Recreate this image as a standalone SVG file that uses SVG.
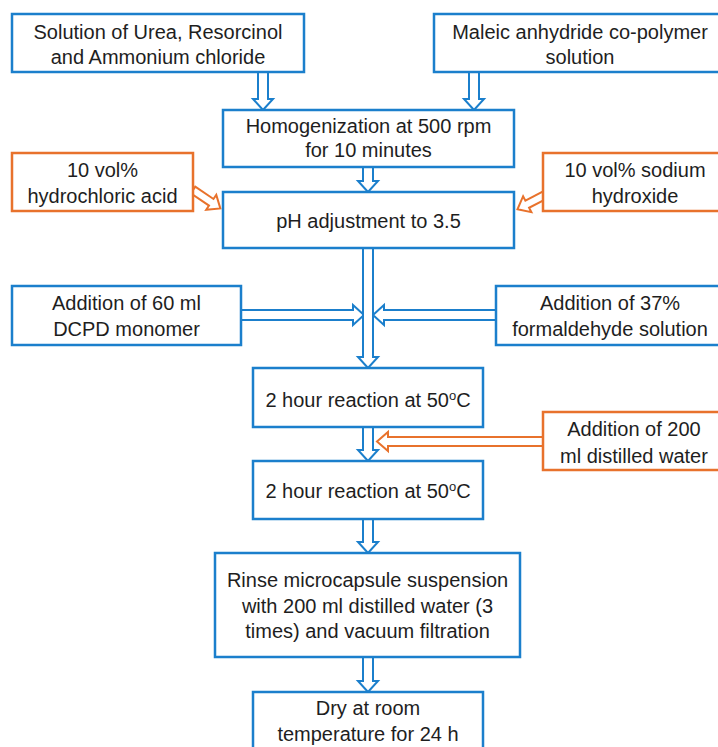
<svg xmlns="http://www.w3.org/2000/svg" width="718" height="747" viewBox="0 0 718 747">
<style>
.b{fill:#fff;stroke:#1b7fcc;stroke-width:2.5}
.o{fill:#fff;stroke:#e8722c;stroke-width:2.5}
.ab{fill:#fff;stroke:#1b7fcc;stroke-width:2;stroke-linejoin:miter}
.ao{fill:#fff;stroke:#e8722c;stroke-width:2;stroke-linejoin:miter}
text{font-family:"Liberation Sans",Arial,sans-serif;font-size:20px;fill:#1e1e1e;text-anchor:middle}
</style>
<rect width="718" height="747" fill="#fff"/>
<g id="connectors">
<polygon class="ab" points="258,72 268,72 268,99 273,99 263,110 253,99 258,99"/>
<polygon class="ab" points="469,72 479,72 479,99 484,99 474,110 464,99 469,99"/>
<polygon class="ab" points="363,167 373,167 373,181 378,181 368,192 358,181 363,181"/>
<polygon class="ab" points="241,310 353,310 353,305 364,315 353,325 353,320 241,320"/>
<polygon class="ab" points="496,310 384,310 384,305 373,315 384,325 384,320 496,320"/>
<polygon class="ab" points="363,248 373,248 373,357 378,357 368,368 358,357 363,357"/>
<polygon class="ab" points="363,427 373,427 373,450 378,450 368,461 358,450 363,450"/>
<polygon class="ao" points="543,437 388,437 388,432 377,441.5 388,451 388,446 543,446"/>
<polygon class="ab" points="363,519 373,519 373,542 378,542 368,553 358,542 363,542"/>
<polygon class="ab" points="363,657 373,657 373,681 378,681 368,692 358,681 363,681"/>
<polygon class="ao" transform="translate(193,190) rotate(34)" points="0,-4 22,-4 22,-9 33,0 22,9 22,4 0,4"/>
<polygon class="ao" transform="translate(545,195) rotate(152.6)" points="0,-4 20,-4 20,-9 31,0 20,9 20,4 0,4"/>
</g>
<g id="n1"><rect class="b" x="12" y="14" width="292" height="58"/><text x="158" y="39">Solution of Urea, Resorcinol</text><text x="158" y="64">and Ammonium chloride</text></g>
<g id="n2"><rect class="b" x="434" y="14" width="300" height="58"/><text x="580" y="39">Maleic anhydride co-polymer</text><text x="580" y="64">solution</text></g>
<g id="n3"><rect class="b" x="223" y="110" width="291" height="57"/><text x="368.5" y="133">Homogenization at 500 rpm</text><text x="368.5" y="157">for 10 minutes</text></g>
<g id="n4"><rect class="o" x="12" y="153" width="181" height="58"/><text x="102.5" y="177">10 vol%</text><text x="102.5" y="203">hydrochloric acid</text></g>
<g id="n5"><rect class="o" x="543" y="153" width="190" height="58"/><text x="635" y="177">10 vol% sodium</text><text x="635" y="203">hydroxide</text></g>
<g id="n6"><rect class="b" x="223" y="192" width="291" height="56"/><text x="368.5" y="228">pH adjustment to 3.5</text></g>
<g id="n7"><rect class="b" x="12" y="286" width="229" height="59"/><text x="126.5" y="310">Addition of 60 ml</text><text x="126.5" y="336">DCPD monomer</text></g>
<g id="n8"><rect class="b" x="496" y="286" width="240" height="59"/><text x="610" y="310">Addition of 37%</text><text x="610" y="336">formaldehyde solution</text></g>
<g id="n9"><rect class="b" x="253" y="368" width="230" height="59"/><text x="368" y="407">2 hour reaction at 50<tspan font-size="13" dy="-7">o</tspan><tspan dy="7">C</tspan></text></g>
<g id="n10"><rect class="o" x="543" y="412" width="190" height="58"/><text x="634" y="436">Addition of 200</text><text x="634" y="463">ml distilled water</text></g>
<g id="n11"><rect class="b" x="253" y="461" width="230" height="58"/><text x="368" y="498">2 hour reaction at 50<tspan font-size="13" dy="-7">o</tspan><tspan dy="7">C</tspan></text></g>
<g id="n12"><rect class="b" x="215" y="553" width="305" height="104"/><text x="367.5" y="587">Rinse microcapsule suspension</text><text x="367.5" y="613">with 200 ml distilled water (3</text><text x="367.5" y="638">times) and vacuum filtration</text></g>
<g id="n13"><rect class="b" x="253" y="692" width="230" height="70"/><text x="368" y="715">Dry at room</text><text x="368" y="741">temperature for 24 h</text></g>
</svg>
